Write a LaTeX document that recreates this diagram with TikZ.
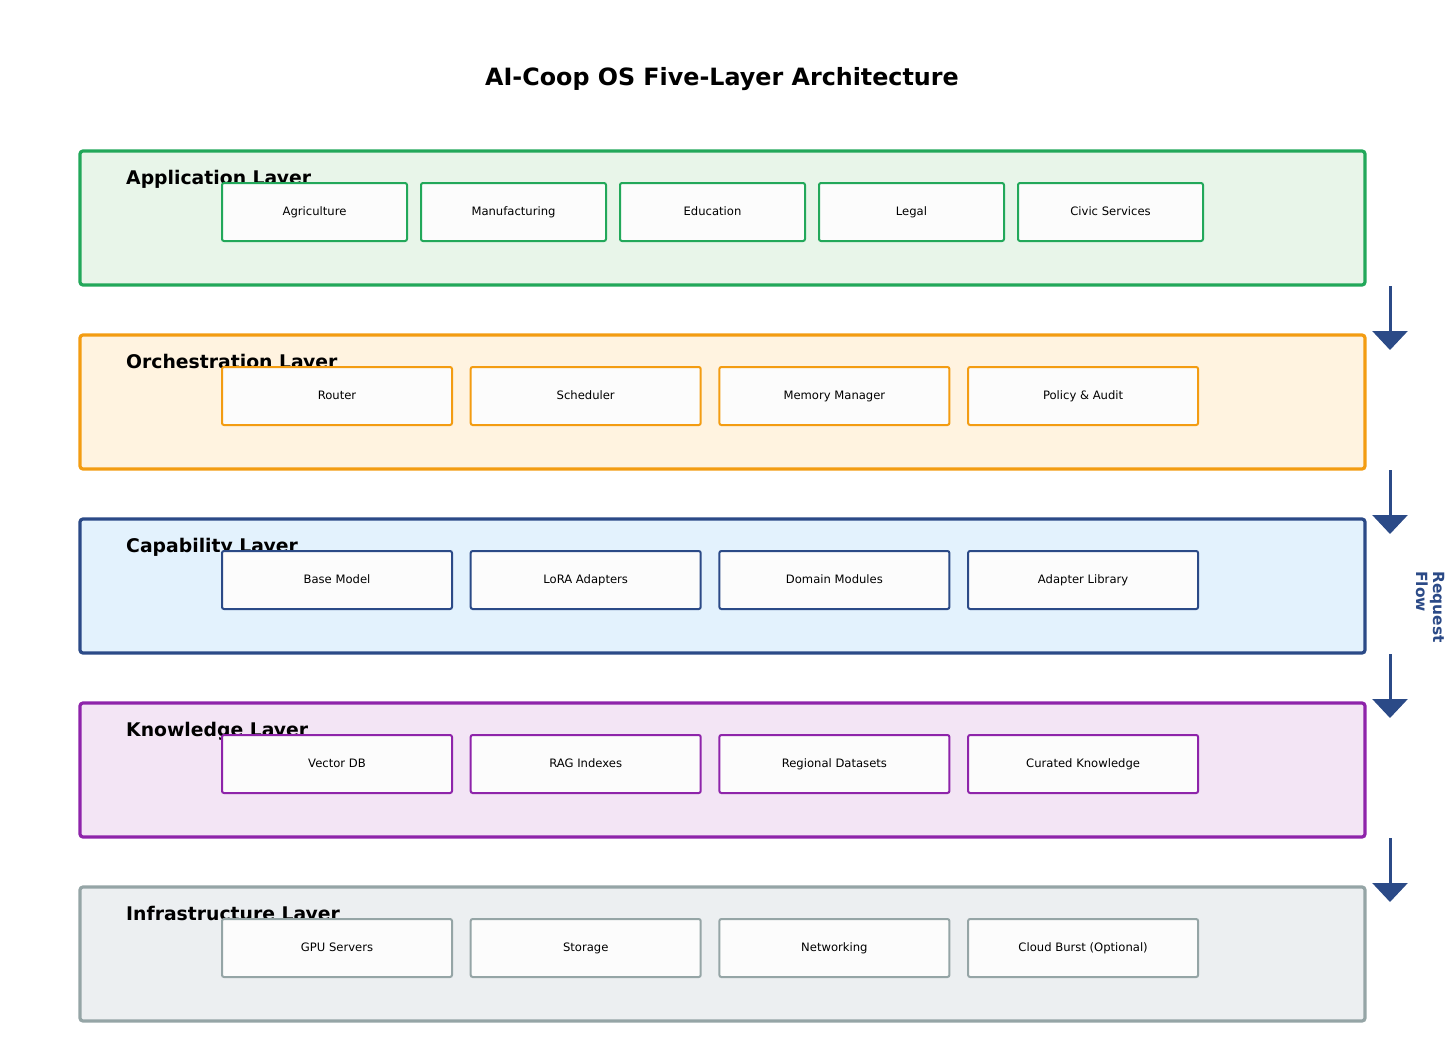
\documentclass[tikz,border=0pt]{standalone}
\usepackage{fontspec}
\setmainfont{DejaVu Sans}
\usetikzlibrary{arrows.meta}
\definecolor{cgreen}{HTML}{22A85A}
\definecolor{lgreen}{HTML}{E8F5E9}
\definecolor{corange}{HTML}{F39C12}
\definecolor{lorange}{HTML}{FFF3E0}
\definecolor{cblue}{HTML}{2B4A87}
\definecolor{lblue}{HTML}{E3F2FD}
\definecolor{cpurple}{HTML}{8E24AA}
\definecolor{lpurple}{HTML}{F3E5F5}
\definecolor{cgray}{HTML}{95A5A6}
\definecolor{lgray}{HTML}{ECEFF1}
\definecolor{inner}{HTML}{FCFCFC}
\tikzset{
  layerbox/.style={draw=#1, line width=3.2pt, rounded corners=3pt},
  itembox/.style={draw=#1, fill=inner, line width=2pt, rounded corners=2pt,
    font=\fontsize{11.6}{14}\selectfont, text height=0.95em, text depth=0.25em},
  layerlabel/.style={anchor=base west, inner sep=0pt, font=\fontsize{18.8}{22}\selectfont\bfseries},
  flowarrow/.style={draw=cblue, line width=3pt, -{Triangle[width=35pt,length=19pt]}},
}
\begin{document}
\begin{tikzpicture}[x=1pt,y=-1pt]
\useasboundingbox (0,0) rectangle (1456,1054);
\node[font=\fontsize{23.8}{28}\selectfont\bfseries] (title) at (722,79) {AI-Coop OS Five-Layer Architecture};

% layers
\filldraw[layerbox=cgreen, fill=lgreen] (80,151) rectangle (1365,285);
\filldraw[layerbox=corange, fill=lorange] (80,335) rectangle (1365,469);
\filldraw[layerbox=cblue, fill=lblue] (80,519) rectangle (1365,653);
\filldraw[layerbox=cpurple, fill=lpurple] (80,703) rectangle (1365,837);
\filldraw[layerbox=cgray, fill=lgray] (80,887) rectangle (1365,1021);

\node[layerlabel] (lab1) at (126,184) {Application Layer};
\node[layerlabel] (lab2) at (126,368) {Orchestration Layer};
\node[layerlabel] (lab3) at (126,552) {Capability Layer};
\node[layerlabel] (lab4) at (126,736) {Knowledge Layer};
\node[layerlabel] (lab5) at (126,920) {Infrastructure Layer};

% items
\foreach \i/\t in {0/Agriculture,1/Manufacturing,2/Education,3/Legal,4/Civic Services}{
  \node[itembox=cgreen, minimum width=185pt, minimum height=58pt] (app\i) at ({314.5+199*\i},212) {\t};
}
\foreach \i/\t in {0/Router,1/Scheduler,2/Memory Manager,3/Policy \& Audit}{
  \node[itembox=corange, minimum width=230pt, minimum height=58pt] (orc\i) at ({337+248.7*\i},396) {\t};
}
\foreach \i/\t in {0/Base Model,1/LoRA Adapters,2/Domain Modules,3/Adapter Library}{
  \node[itembox=cblue, minimum width=230pt, minimum height=58pt] (cap\i) at ({337+248.7*\i},580) {\t};
}
\foreach \i/\t in {0/Vector DB,1/RAG Indexes,2/Regional Datasets,3/Curated Knowledge}{
  \node[itembox=cpurple, minimum width=230pt, minimum height=58pt] (kno\i) at ({337+248.7*\i},764) {\t};
}
\foreach \i/\t in {0/GPU Servers,1/Storage,2/Networking,3/Cloud Burst (Optional)}{
  \node[itembox=cgray, minimum width=230pt, minimum height=58pt] (inf\i) at ({337+248.7*\i},948) {\t};
}

% flow arrows
\foreach \k in {0,1,2,3}{
  \coordinate (as\k) at (1390,{286+184*\k});
  \coordinate (ae\k) at (1390,{350+184*\k});
  \draw[flowarrow] (as\k) -- (ae\k);
}
\node[rotate=-90, align=left, text=cblue, font=\fontsize{15.4}{17}\selectfont\bfseries] (flow) at (1430,607) {Request\\Flow};
\end{tikzpicture}
\end{document}
